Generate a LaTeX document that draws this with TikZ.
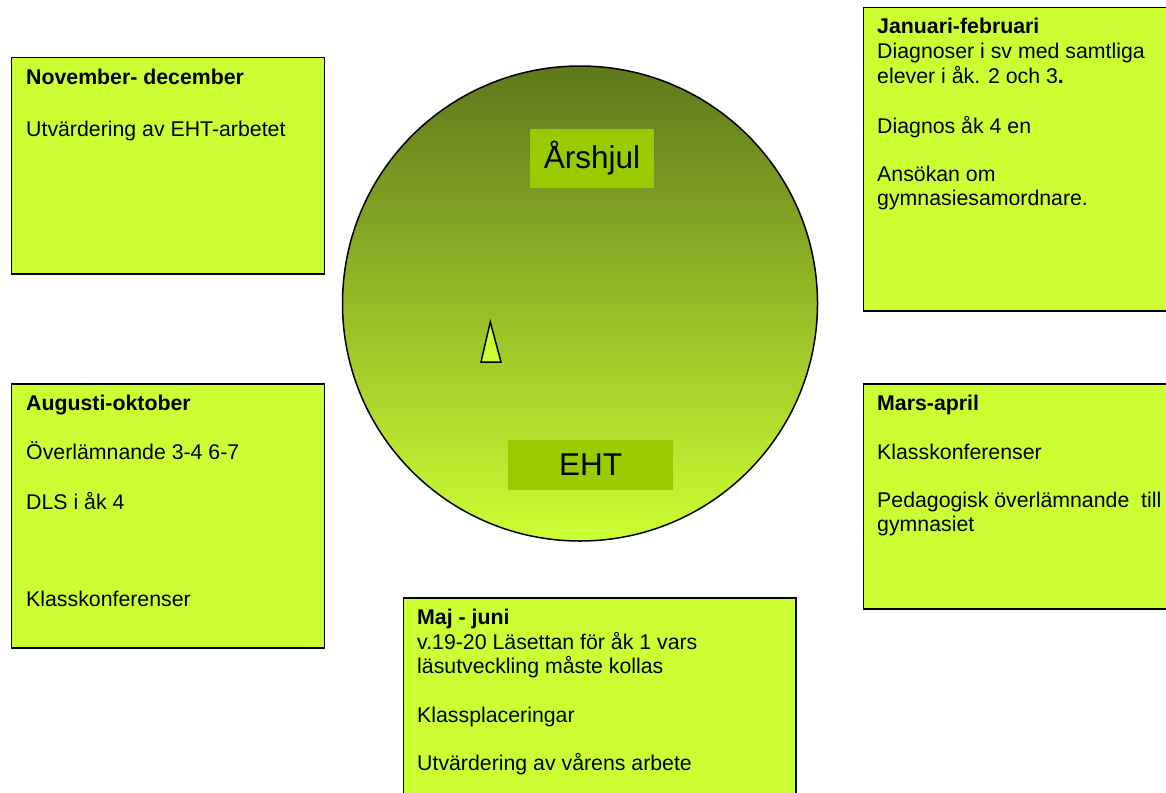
\documentclass[tikz,border=0pt]{standalone}
\usepackage{fontspec}
\setmainfont{Liberation Sans}
\definecolor{boxfill}{HTML}{CCFF33}
\definecolor{labfill}{HTML}{99CC00}
\definecolor{wheeltop}{HTML}{5E781C}
\tikzset{
  monthbox/.style={draw=black, line width=1.5pt, fill=boxfill, rectangle, anchor=north west, inner sep=0pt},
  txt/.style={anchor=base west, inner sep=0pt, font=\fontsize{21.3}{24}\selectfont},
  ttl/.style={txt, font=\fontsize{21.3}{24}\selectfont\bfseries},
  lab/.style={fill=labfill, rectangle, inner sep=0pt, font=\fontsize{31.5}{36}\selectfont}
}
\begin{document}
\begin{tikzpicture}[x=1pt,y=-1pt]
\useasboundingbox (0,0) rectangle (1166,792);
\clip (0,0) rectangle (1166,792);
% wheel
\node[circle, draw=black, line width=1.5pt, top color=wheeltop, bottom color=boxfill, minimum size=475pt, inner sep=0pt] (wheel) at (580,303.5) {};
\node[lab, minimum width=124pt, minimum height=59pt] (ars) at (592,158.5) {Årshjul};
\node[lab, minimum width=165pt, minimum height=50pt] (eht) at (590.5,465) {EHT};
\coordinate (t1) at (490.3,322);
\coordinate (t2) at (481,362);
\coordinate (t3) at (501,362);
\draw[line width=1.5pt, fill=boxfill, line join=miter] (t1) -- (t3) -- (t2) -- cycle;
% November-december
\node[monthbox, minimum width=313pt, minimum height=216pt] (nd) at (10.5,57) {};
\node[ttl] (nd1) at (26,84.5) {November- december};
\node[txt] (nd2) at (26,136.5) {Utvärdering av EHT-arbetet};
% Januari-februari
\node[monthbox, minimum width=320pt, minimum height=303pt] (jf) at (862.5,7) {};
\node[ttl] (jf1) at (877,34) {Januari-februari};
\node[txt] (jf2) at (877,58.5) {Diagnoser i sv med samtliga};
\node[txt] (jf3) at (877,83) {elever i åk. 2 och 3\textbf{.}};
\node[txt] (jf4) at (877,133) {Diagnos åk 4 en};
\node[txt] (jf5) at (877,181.5) {Ansökan om};
\node[txt] (jf6) at (877,205.5) {gymnasiesamordnare.};
% Augusti-oktober
\node[monthbox, minimum width=313pt, minimum height=264pt] (ao) at (10.5,383) {};
\node[ttl] (ao1) at (26,410) {Augusti-oktober};
\node[txt] (ao2) at (26,459) {Överlämnande 3-4 6-7};
\node[txt] (ao3) at (26,509) {DLS i åk 4};
\node[txt] (ao4) at (26,606) {Klasskonferenser};
% Mars-april
\node[monthbox, minimum width=320pt, minimum height=225pt] (ma) at (862.5,383) {};
\node[ttl] (ma1) at (877,410.5) {Mars-april};
\node[txt] (ma2) at (877,459) {Klasskonferenser};
\node[txt] (ma3) at (877,507) {Pedagogisk överlämnande\ \ till};
\node[txt] (ma4) at (877,531.5) {gymnasiet};
% Maj-juni
\node[monthbox, minimum width=392.5pt, minimum height=210pt] (mj) at (402.5,597) {};
\node[ttl] (mj1) at (417,624.5) {Maj - juni};
\node[txt] (mj2) at (417,649) {v.19-20 Läsettan för åk 1 vars};
\node[txt] (mj3) at (417,673.5) {läsutveckling måste kollas};
\node[txt] (mj4) at (417,722.5) {Klassplaceringar};
\node[txt] (mj5) at (417,770.5) {Utvärdering av vårens arbete};
\end{tikzpicture}
\end{document}
